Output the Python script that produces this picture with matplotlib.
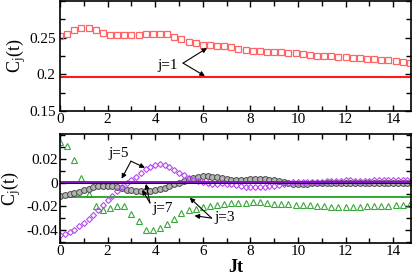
import numpy as np
import matplotlib
matplotlib.use("Agg")
import matplotlib.pyplot as plt
from matplotlib.ticker import MultipleLocator

plt.rcParams['font.family'] = ['Liberation Serif', 'DejaVu Serif']
plt.rcParams['mathtext.fontset'] = 'stix'

# time grids (dt = 0.3 for squares/triangles, dt = 0.2 for diamonds/circles)
t_a = np.round(np.arange(50) * 0.3, 1)
t_b = np.round(np.arange(75) * 0.2, 1)

# j=1 (top panel)
c1 = [0.2527, 0.255, 0.260, 0.2628, 0.2628, 0.2604, 0.2568, 0.254, 0.254, 0.2536,
      0.2536, 0.254, 0.2545, 0.2545, 0.2545, 0.2545, 0.2513, 0.2477, 0.244, 0.2423,
      0.2400, 0.2400, 0.2390, 0.2386, 0.2368, 0.2349, 0.2332, 0.2318, 0.2314, 0.2308,
      0.2304, 0.2300, 0.2295, 0.2287, 0.2277, 0.2263, 0.2254, 0.2250, 0.2246, 0.2240,
      0.2232, 0.2227, 0.2218, 0.2213, 0.2205, 0.2195, 0.2191, 0.2181, 0.2172, 0.2158]
c1_line = 0.196

# j=3 (green triangles)
c3 = [0.034, 0.031, 0.019, 0.004, -0.010, -0.020, -0.0234, -0.0215, -0.0195, -0.020,
      -0.0263, -0.0328, -0.040, -0.0404, -0.0385, -0.0348, -0.031, -0.0257, -0.0235, -0.0223,
      -0.0206, -0.0195, -0.0187, -0.0178, -0.0176, -0.0172, -0.0170, -0.0167, -0.0167, -0.0172,
      -0.0178, -0.018, -0.0183, -0.0190, -0.0186, -0.0186, -0.0194, -0.020, -0.0205, -0.0206,
      -0.0206, -0.0206, -0.0205, -0.020, -0.020, -0.0198, -0.0195, -0.0192, -0.0188, -0.0184]
c3_line = -0.012

# j=5 (purple diamonds)
c5 = [-0.044, -0.0435, -0.042, -0.040, -0.037, -0.034, -0.031, -0.027, -0.023, -0.019,
      -0.015, -0.011, -0.007, -0.0035, -0.0005, 0.002, 0.005, 0.008, 0.011, 0.0135,
      0.0148, 0.0155, 0.0147, 0.0128, 0.0106, 0.008, 0.006, 0.004, 0.0025, 0.0012,
      0.0002, -0.0006, -0.001, -0.0009, -0.0007, -0.0009, -0.0015, -0.0022, -0.003, -0.0035,
      -0.0038, -0.004, -0.004, -0.0038, -0.0033, -0.0025, -0.0018, -0.001, -0.0003, 0.0002,
      0.0005, 0.0006, 0.0006, 0.0005, 0.0005, 0.0007, 0.001, 0.0013, 0.0015, 0.0017,
      0.0018, 0.0018, 0.0017, 0.0016, 0.0016, 0.0017, 0.0019, 0.002, 0.0021, 0.0021,
      0.002, 0.0019, 0.0018, 0.0018, 0.0019]
c5_line = 0.0007

# j=7 (grey circles)
c7 = [-0.011, -0.0105, -0.0098, -0.009, -0.0078, -0.0065, -0.0052, -0.004, -0.003, -0.0025,
      -0.0025, -0.003, -0.004, -0.005, -0.006, -0.0066, -0.007, -0.0072, -0.0072, -0.007,
      -0.0065, -0.0055, -0.0042, -0.003, -0.0015, 0.0, 0.0015, 0.003, 0.004, 0.0048,
      0.0052, 0.0053, 0.005, 0.0045, 0.0038, 0.003, 0.0024, 0.002, 0.002, 0.0022,
      0.0026, 0.003, 0.0032, 0.003, 0.0025, 0.0018, 0.001, 0.0002, -0.0005, -0.001,
      -0.0013, -0.0013, -0.001, -0.0006, -0.0003, -0.0002, -0.0003, -0.0005, -0.0006, -0.0006,
      -0.0005, -0.0003, -0.0002, -0.0002, -0.0003, -0.0004, -0.0004, -0.0003, -0.0002, -0.0001,
      -0.0001, -0.0002, -0.0003, -0.0003, -0.0002]
c7_line = -0.0006

fig = plt.figure(figsize=(4.15, 2.79), dpi=100)
ax1 = fig.add_axes([0.1446, 0.602, 0.8458, 0.394])
ax2 = fig.add_axes([0.1446, 0.129, 0.8458, 0.391])

for ax in (ax1, ax2):
    ax.set_xlim(0, 14.75)
    ax.xaxis.set_major_locator(MultipleLocator(2))
    ax.xaxis.set_minor_locator(MultipleLocator(1))
    ax.tick_params(which='both', direction='in', top=True, right=True, labelsize=11, pad=1.5, width=1)
    ax.tick_params(which='major', length=4.5)
    ax.tick_params(which='minor', length=3.5)
    for s in ax.spines.values():
        s.set_linewidth(1.2)

# top panel
ax1.plot(t_a, c1, ls='none', marker='s', ms=4.0, mfc='none', mec='#ff6464', mew=0.9)
ax1.axhline(c1_line, color='#ff1a1a', lw=1.5)
ax1.set_ylim(0.15, 0.30)
ax1.set_yticks([0.15, 0.2, 0.25])
ax1.set_yticklabels(['0.15', '0.2', '0.25'])
ax1.yaxis.set_minor_locator(MultipleLocator(0.025))
ax1.tick_params(axis='y', pad=3)
ax1.set_ylabel(r'C$_\mathrm{j}$(t)', fontsize=13, labelpad=1)
arrow = dict(arrowstyle='-|>', color='black', lw=0.8, mutation_scale=7, shrinkA=0, shrinkB=0)
ax1.text(4.08, 0.2127, 'j=1', fontsize=11, va='center', ha='left')
ax1.annotate('', xy=(6.18, 0.2359), xytext=(5.17, 0.2154), arrowprops=arrow)
ax1.annotate('', xy=(6.09, 0.1977), xytext=(5.17, 0.2154), arrowprops=arrow)

# bottom panel
ax2.plot(t_a, c3, ls='none', marker='^', ms=3.8, mfc='none', mec='#3aa63a', mew=0.8)
ax2.axhline(c3_line, color='#22a022', lw=1.3)
ax2.plot(t_b, c7, ls='none', marker='o', ms=4.2, mfc='#b4b4b4', mec='#4a4a4a', mew=0.7)
ax2.plot(t_b, c5, ls='none', marker='D', ms=3.0, mfc='none', mec='#b448f0', mew=0.8)
ax2.axhline(c7_line, color='black', lw=1.4)
ax2.axhline(c5_line, color='#8a10c8', lw=1.4)
ax2.set_ylim(-0.051, 0.041)
ax2.set_yticks([-0.04, -0.02, 0, 0.02])
ax2.set_yticklabels(['-0.04', '-0.02', '0', '0.02'])
ax2.yaxis.set_minor_locator(MultipleLocator(0.01))
ax2.set_ylabel(r'C$_\mathrm{j}$(t)', fontsize=13, labelpad=2)
ax2.set_xlabel('Jt', fontsize=13, fontweight='bold', labelpad=1)

ax2.text(2.02, 0.0245, 'j=5', fontsize=11, va='center', ha='left')
ax2.annotate('', xy=(2.59, 0.0032), xytext=(2.98, 0.018), arrowprops=arrow)
ax2.annotate('', xy=(3.57, 0.0125), xytext=(2.98, 0.018), arrowprops=arrow)

ax2.text(3.87, -0.0223, 'j=7', fontsize=11, va='center', ha='left')
ax2.annotate('', xy=(3.45, -0.0062), xytext=(3.78, -0.0172), arrowprops=arrow)
ax2.annotate('', xy=(3.61, -0.0011), xytext=(3.78, -0.0172), arrowprops=arrow)

ax2.text(6.5, -0.0295, 'j=3', fontsize=11, va='center', ha='left')
ax2.annotate('', xy=(5.45, -0.0128), xytext=(6.37, -0.030), arrowprops=arrow)
ax2.annotate('', xy=(5.65, -0.028), xytext=(6.37, -0.030), arrowprops=arrow)

fig.savefig('out.png', dpi=100)
